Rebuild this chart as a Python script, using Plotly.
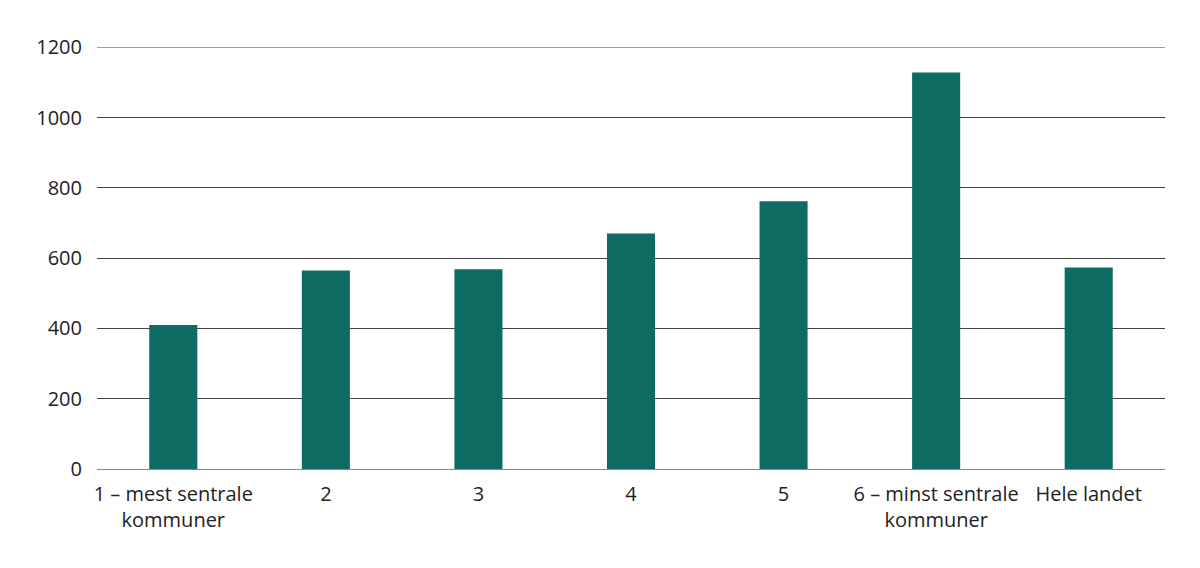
import plotly.graph_objects as go

categories = ["1 – mest sentrale<br>kommuner", "2", "3", "4", "5", "6 – minst sentrale<br>kommuner", "Hele landet"]
values = [410, 565, 568, 670, 762, 1128, 573]
y_ticks = [0, 200, 400, 600, 800, 1000, 1200]

fig = go.Figure(go.Bar(x=categories, y=values, marker=dict(color="#0e6b61", line=dict(width=0)), width=0.315))
fig.update_layout(
    width=1200, height=568,
    margin=dict(l=89, r=43, t=39, b=107),
    paper_bgcolor="white", plot_bgcolor="white",
    font=dict(family="Open Sans", size=20, color="#222"),
    showlegend=False,
    xaxis=dict(showgrid=False, showline=False, ticks="", tickfont=dict(size=20), ticklabelstandoff=11),
    yaxis=dict(range=[0, 1200.6], tickvals=y_ticks, showgrid=True, gridcolor="#444", gridwidth=1,
               zeroline=True, zerolinecolor="#888", zerolinewidth=1, ticks="", ticklabelstandoff=14),
)
fig.add_shape(type="line", xref="paper", yref="y", x0=0, x1=1, y0=y_ticks[-1], y1=y_ticks[-1],
              line=dict(color="#777", width=1), layer="below")
fig.write_html("out.html")
